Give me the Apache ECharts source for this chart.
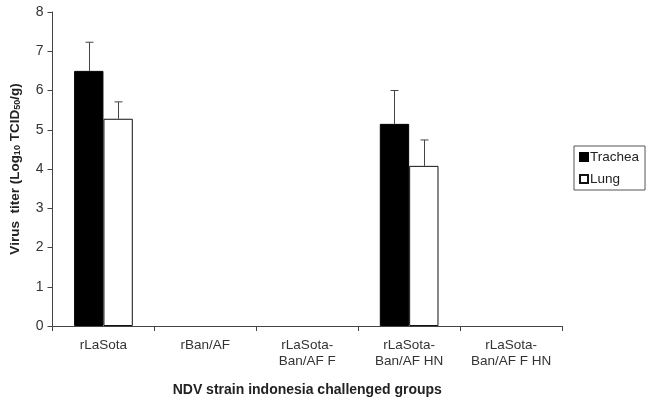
<!DOCTYPE html>
<html>
<head>
<meta charset="utf-8">
<script src="https://cdn.jsdelivr.net/npm/echarts@6/dist/echarts.min.js"></script>
<style>
  html, body { margin: 0; padding: 0; background: #fff; }
  #main { width: 653px; height: 405px; }
</style>
</head>
<body>
<div id="main"></div>
<script>
// groups on the x axis
var categories = ['rLaSota', 'rBan/AF', 'rLaSota-\nBan/AF F', 'rLaSota-\nBan/AF HN', 'rLaSota-\nBan/AF F HN'];
// mean titer and error (upper bar only)
var trachea = [6.5, 0, 0, 5.15, 0];
var tracheaErr = [0.73, 0, 0, 0.85, 0];
var lung = [5.28, 0, 0, 4.08, 0];
var lungErr = [0.43, 0, 0, 0.66, 0];
var yTicks = [0, 1, 2, 3, 4, 5, 6, 7, 8];

var BAR_RATIO = 0.288; // bar width / category width

// zero bars would leave a border stroke on the axis, drop it
function barData(vals) {
  return vals.map(function (v) {
    return v === 0 ? { value: 0, itemStyle: { borderWidth: 0, opacity: 0 } } : v;
  });
}

function errData(vals, errs) {
  var res = [];
  for (var i = 0; i < vals.length; i++) {
    if (errs[i] > 0) res.push([i, vals[i], vals[i] + errs[i]]);
  }
  return res;
}

// side: -1 left bar, +1 right bar
function makeErrRender(side) {
  return function (params, api) {
    var idx = api.value(0);
    var lo = api.coord([idx, api.value(1)]);
    var hi = api.coord([idx, api.value(2)]);
    var catW = api.size([1, 0])[0];
    var x = Math.round(lo[0] + side * catW * BAR_RATIO / 2) + 0.5;
    var cap = 4;
    var st = { stroke: '#444', lineWidth: 1 };
    return {
      type: 'group',
      children: [
        { type: 'line', shape: { x1: x, y1: lo[1], x2: x, y2: hi[1] }, style: st },
        { type: 'line', shape: { x1: x - cap, y1: hi[1], x2: x + cap, y2: hi[1] }, style: st }
      ]
    };
  };
}

var chart = echarts.init(document.getElementById('main'), null, { renderer: 'canvas' });

var option = {
  animation: false,
  textStyle: { fontFamily: 'Liberation Sans, Arial, sans-serif' },
  grid: { left: 49, right: 91, top: 12, bottom: 79, containLabel: false },
  legend: {
    data: ['Trachea', 'Lung'],
    orient: 'vertical',
    left: 574,
    top: 146,
    width: 72,
    itemWidth: 8,
    itemHeight: 8,
    itemGap: 8,
    icon: 'rect',
    padding: [4, 6, 4, 5],
    borderColor: '#555',
    borderWidth: 1,
    textStyle: { fontSize: 13.5, color: '#222', padding: [0, 0, 0, -3] }
  },
  xAxis: {
    type: 'category',
    data: categories,
    name: 'NDV strain indonesia challenged groups',
    nameLocation: 'middle',
    nameGap: 57,
    nameTextStyle: { fontSize: 14, fontWeight: 'bold', color: '#222' },
    axisLine: { lineStyle: { color: '#444' } },
    axisTick: { show: true, length: 5, lineStyle: { color: '#444' } },
    axisLabel: { interval: 0, color: '#333', fontSize: 13.5, lineHeight: 16, margin: 11 }
  },
  yAxis: {
    type: 'value',
    min: yTicks[0],
    max: yTicks[yTicks.length - 1],
    interval: 1,
    name: '{b|Virus  titer (Log}{s|10}{b| TCID}{s|50}{b|/g)}',
    nameLocation: 'middle',
    nameGap: 30,
    nameRotate: 90,
    nameTextStyle: {
      rich: {
        b: { fontSize: 13.5, fontWeight: 'bold', color: '#222' },
        s: { fontSize: 9, fontWeight: 'bold', color: '#222', verticalAlign: 'bottom', padding: [6, 0, 0, 0] }
      }
    },
    axisLine: { show: true, lineStyle: { color: '#444' } },
    axisTick: { show: true, length: 5, lineStyle: { color: '#444' } },
    axisLabel: { color: '#333', fontSize: 14, margin: 9 },
    splitLine: { show: false }
  },
  series: [
    {
      name: 'Trachea',
      type: 'bar',
      data: barData(trachea),
      barWidth: (BAR_RATIO * 100) + '%',
      barGap: '0%',
      itemStyle: { color: '#000', borderColor: '#000', borderWidth: 1 }
    },
    {
      name: 'Lung',
      type: 'bar',
      data: barData(lung),
      barWidth: (BAR_RATIO * 100) + '%',
      barGap: '0%',
      itemStyle: { color: '#fff', borderColor: '#111', borderWidth: 1 }
    },
    {
      name: 'TracheaErr',
      type: 'custom',
      data: errData(trachea, tracheaErr),
      renderItem: makeErrRender(-1),
      encode: { x: 0, y: [1, 2] },
      z: 3
    },
    {
      name: 'LungErr',
      type: 'custom',
      data: errData(lung, lungErr),
      renderItem: makeErrRender(1),
      encode: { x: 0, y: [1, 2] },
      z: 3
    }
  ]
};

chart.setOption(option);
</script>
</body>
</html>
